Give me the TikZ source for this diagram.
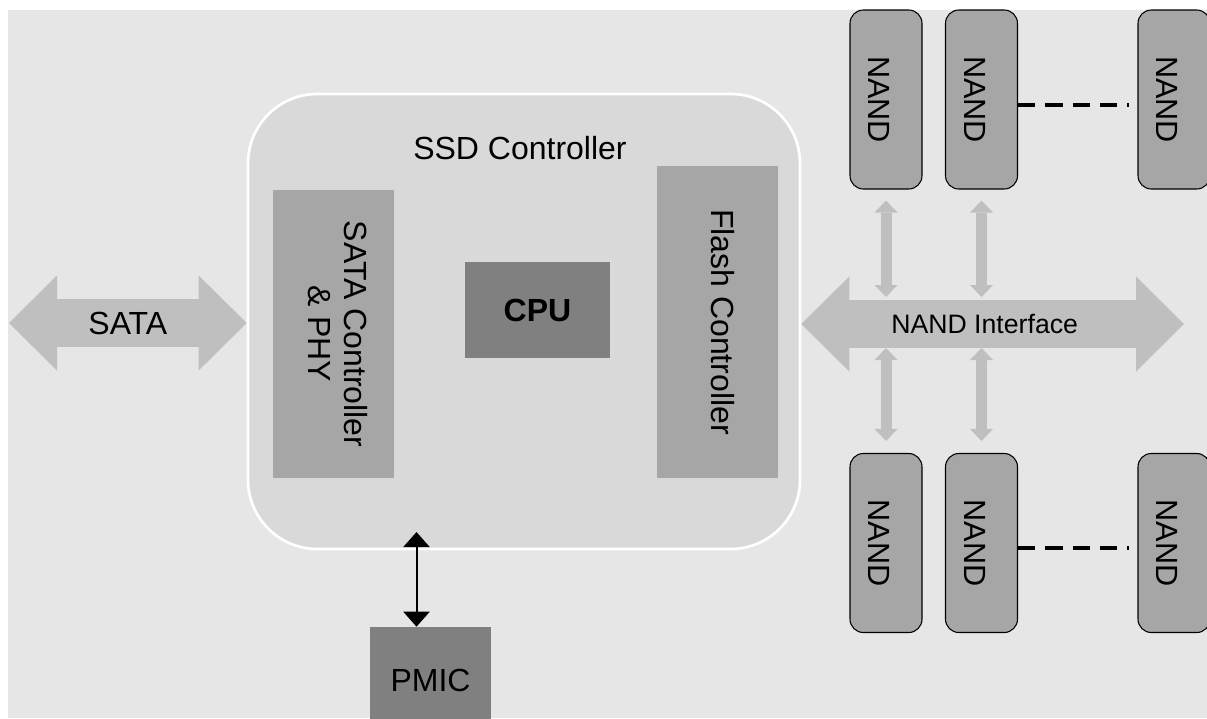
\documentclass[tikz,border=0pt]{standalone}
\usepackage{fontspec}
\setmainfont{Liberation Sans}
\usetikzlibrary{arrows.meta,positioning}
\definecolor{bggray}{RGB}{230,230,230}
\definecolor{ctrlgray}{RGB}{217,217,217}
\definecolor{blockgray}{RGB}{166,166,166}
\definecolor{coregray}{RGB}{128,128,128}
\definecolor{busgray}{RGB}{191,191,191}
\def\pxu{0.75pt}

\begin{document}
\begin{tikzpicture}[x=\pxu, y=-\pxu,
  every node/.style={inner sep=0pt, text=black, font=\fontsize{24}{26.5}\selectfont},
  ctrl/.style={draw=white, line width=2pt, fill=ctrlgray, rounded corners=52pt,
    minimum width=552*\pxu, minimum height=455*\pxu},
  block/.style={fill=blockgray, minimum width=121*\pxu},
  core/.style={fill=coregray},
  nand/.style={draw=black, line width=0.8pt, fill=blockgray, rounded corners=10pt,
    minimum width=72*\pxu, minimum height=179*\pxu, font=\fontsize{23}{26}\selectfont},
  bus/.style={busgray, line width=36pt,
    {Triangle[length=36pt, width=71.25pt, line width=0pt]}-{Triangle[length=36pt, width=71.25pt, line width=0pt]}},
  link/.style={busgray, line width=8.25pt,
    {Triangle[length=9pt, width=17.25pt, line width=0pt]}-{Triangle[length=9pt, width=17.25pt, line width=0pt]}},
  power/.style={black, line width=1.5pt,
    {Triangle[length=11.25pt, width=19.5pt]}-{Triangle[length=11.25pt, width=19.5pt]}},
  gapline/.style={black, line width=3pt, dash pattern=on 13pt off 7.5pt}]
  \useasboundingbox (0,0) rectangle (1207,718);
  \fill[bggray] (8,10) rectangle (1207,718);

  % controller
  \node[ctrl] (ctrl) at (524,321.5) {};
  \node (ctrllbl) at (520,148) {SSD Controller};
  \node[block, minimum height=288*\pxu] (satactl) at (333.5,334)
    {\rotatebox{-90}{\begin{tabular}{@{}c@{}}SATA Controller\\ \& PHY\end{tabular}}};
  \node[block, minimum height=312*\pxu] (flashctl) at (717.5,322)
    {\rotatebox{-90}{\rule[-9pt]{0pt}{9pt}Flash Controller}};
  \node[core, minimum width=145*\pxu, minimum height=96*\pxu,
    font=\fontsize{24}{26.5}\selectfont\bfseries] (cpu) at (537.5,310) {CPU};

  % host and flash buses
  \coordinate (sataend) at (9,323);
  \draw[bus] (sataend) -- (sataend -| ctrl.west) node[midway] (satalbl) {SATA};
  \coordinate (busend) at (1184,324);
  \draw[bus] (busend -| ctrl.east) -- (busend)
    node[midway, xshift=-6pt, font=\fontsize{20}{24}\selectfont] (buslbl) {NAND Interface};

  % NAND packages
  \foreach \n/\x in {1/886, 2/981.5, 3/1174} {
    \node[nand] (t\n) at (\x,99.5) {\rotatebox{-90}{\rule{0pt}{26pt}NAND}};
    \node[nand] (b\n) at (\x,543) {\rotatebox{-90}{\rule{0pt}{26pt}NAND}};
  }
  \foreach \n in {1,2} {
    \draw[link, shorten <=8.25pt, shorten >=20.25pt] (t\n.south) -- (t\n.south |- busend);
    \draw[link, shorten <=18pt, shorten >=9pt] (b\n.north |- busend) -- (b\n.north);
  }
  \draw[gapline, shorten >=6pt] ([yshift=-4pt]t2.east) -- ([yshift=-4pt]t3.west);
  \draw[gapline, shorten >=6pt] ([yshift=-4pt]b2.east) -- ([yshift=-4pt]b3.west);

  % power management
  \node[core, minimum width=121*\pxu, minimum height=106*\pxu] (pmic) at (430.5,680) {PMIC};
  \coordinate (pmictop) at (416.5,532);
  \draw[power] (pmictop) -- (pmictop |- pmic.north);
\end{tikzpicture}
\end{document}
